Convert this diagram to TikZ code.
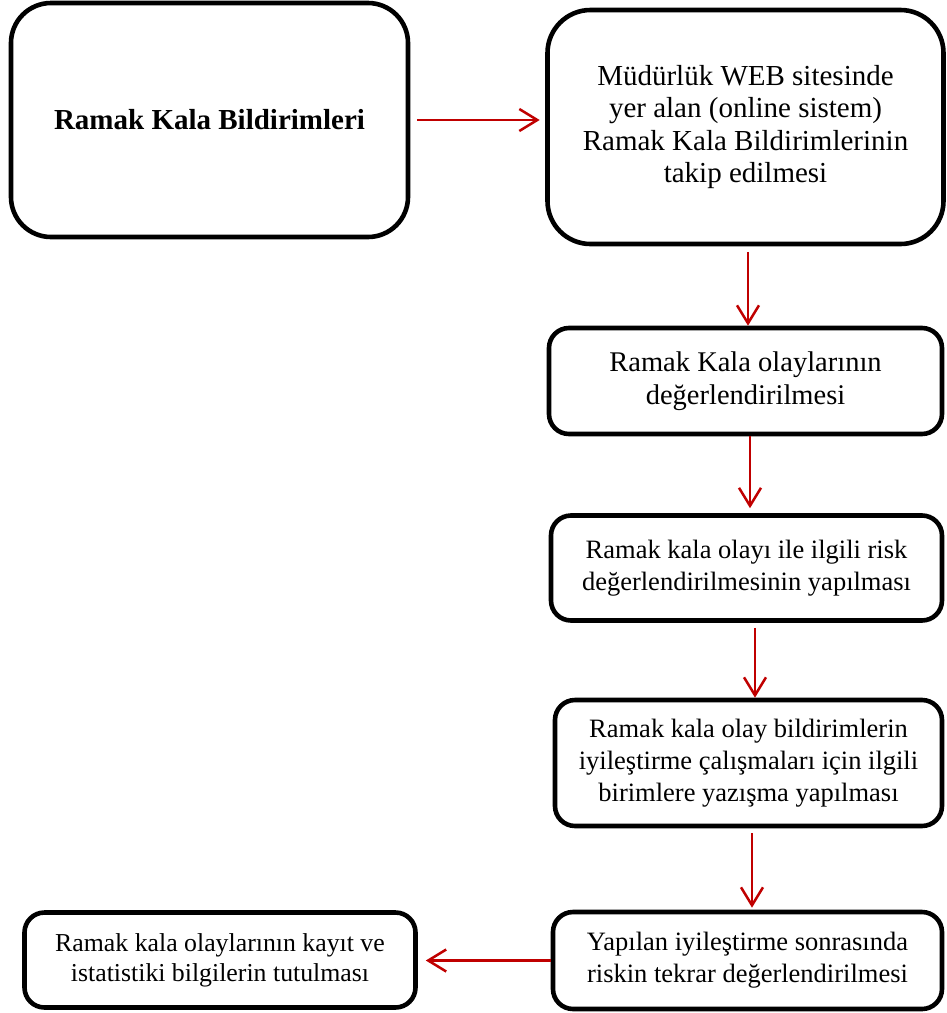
\documentclass[tikz,border=0pt]{standalone}
\usepackage{fontspec}
\setmainfont{Liberation Serif}
\usetikzlibrary{arrows.meta}
\definecolor{arrowred}{RGB}{192,0,0}
\tikzset{
  box/.style={draw, line width=4.6pt, rounded corners=20pt, inner sep=0pt,
              align=center, fill=white},
  flow/.style={draw=arrowred, line width=2.5pt,
               -{Straight Barb[length=18pt,width=22pt]}},
  bigtext/.style={font=\fontsize{29}{32.3}\selectfont},
  midtext/.style={font=\fontsize{28.5}{33}\selectfont},
  smalltext/.style={font=\fontsize{26.5}{31.7}\selectfont},
}
\begin{document}
\begin{tikzpicture}[x=1pt,y=-1pt]
\useasboundingbox (0,0) rectangle (947,1013);

% process boxes
\node[box, rounded corners=40pt, minimum width=397pt, minimum height=234pt,
      font=\fontsize{29}{32}\selectfont\bfseries] (b1) at (209.5,120)
  {Ramak Kala Bildirimleri};
\node[box, bigtext, rounded corners=43pt, minimum width=396pt, minimum height=234pt]
  (b2) at (745.5,127)
  {Müdürlük WEB sitesinde\\yer alan (online sistem)\\Ramak Kala Bildirimlerinin\\takip edilmesi};
\node[box, midtext, minimum width=393pt, minimum height=106pt] (b3) at (745.5,381)
  {Ramak Kala olaylarının\\değerlendirilmesi};
\node[box, smalltext, minimum width=391pt, minimum height=105pt] (b4) at (746.5,568)
  {Ramak kala olayı ile ilgili risk\\değerlendirilmesinin yapılması};
\node[box, smalltext, minimum width=387pt, minimum height=126pt] (b5) at (748.5,763)
  {Ramak kala olay bildirimlerin\\iyileştirme çalışmaları için ilgili\\birimlere yazışma yapılması};
\node[box, smalltext, minimum width=389pt, minimum height=97pt] (b6) at (747.5,960.5)
  {Yapılan iyileştirme sonrasında\\riskin tekrar değerlendirilmesi};
\node[box, font=\fontsize{25.8}{30}\selectfont, minimum width=391pt, minimum height=95pt]
  (b7) at (220,960)
  {Ramak kala olaylarının kayıt ve\\istatistiki bilgilerin tutulması};

% connectors
\draw[flow, shorten <=7pt, shorten >=5.5pt] (b1.east) -- (b1.east -| b2.west);
\draw[flow, shorten <=5.5pt] ([xshift=2.5pt]b2.south) -- ([xshift=2.5pt]b2.south |- b3.north);
\draw[flow, shorten >=5pt] ([xshift=4.5pt]b3.south) -- ([xshift=4.5pt]b3.south |- b4.north);
\draw[flow, shorten <=5pt] ([xshift=8.5pt]b4.south) -- ([xshift=8.5pt]b4.south |- b5.north);
\draw[flow, shorten <=5pt, shorten >=2pt] ([xshift=3.5pt]b5.south) -- ([xshift=3.5pt]b5.south |- b6.north);
\draw[flow, shorten >=8pt] (b6.west) -- (b6.west -| b7.east);
\end{tikzpicture}
\end{document}
